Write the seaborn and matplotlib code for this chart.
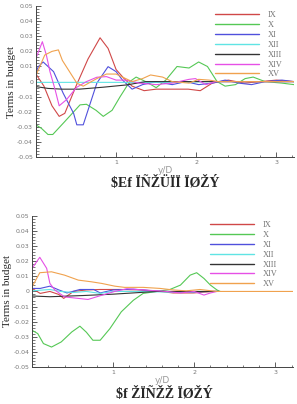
import matplotlib
matplotlib.use("Agg")
import matplotlib.pyplot as plt
from matplotlib.ticker import MultipleLocator
import seaborn as sns
import pandas as pd

terms = ["IX", "X", "XI", "XII", "XIII", "XIV", "XV"]
colors = ["#d04848", "#55c855", "#5050dc", "#60e4e4", "#333333", "#e650e6", "#f0a24e"]

# ---- top panel ----
top = {
    "IX": ([0, 0.1, 0.2, 0.29, 0.36, 0.5, 0.65, 0.8, 0.9, 1.0, 1.1, 1.2, 1.35, 1.5, 1.7, 1.9, 2.05, 2.2, 2.4, 2.6, 2.8, 3.0, 3.22],
           [0.005, -0.003, -0.016, -0.023, -0.021, -0.003, 0.015, 0.029, 0.022, 0.008, 0.002, -0.003, -0.006, -0.005, -0.005, -0.005, -0.006, -0.001, 0.001, -0.001, 0.0, 0.001, 0.0]),
    "X": ([0, 0.07, 0.15, 0.21, 0.35, 0.55, 0.63, 0.75, 0.84, 0.95, 1.05, 1.17, 1.25, 1.37, 1.5, 1.62, 1.76, 1.91, 2.03, 2.14, 2.26, 2.36, 2.49, 2.61, 2.71, 2.86, 3.07, 3.22],
          [-0.0286, -0.031, -0.035, -0.035, -0.027, -0.0154, -0.015, -0.019, -0.023, -0.019, -0.01, 0.0, 0.003, 0.0, -0.004, 0.001, 0.01, 0.009, 0.013, 0.01, 0.0, -0.003, -0.002, 0.002, 0.003, 0.0, -0.001, -0.002]),
    "XI": ([0, 0.03, 0.09, 0.22, 0.34, 0.47, 0.51, 0.59, 0.76, 0.9, 1.0, 1.08, 1.2, 1.33, 1.5, 1.7, 1.87, 2.03, 2.2, 2.36, 2.53, 2.69, 2.86, 3.07, 3.22],
           [0.006, 0.0099, 0.013, 0.0066, -0.0077, -0.021, -0.0286, -0.0286, -0.001, 0.0099, 0.0066, 0.001, -0.005, -0.002, 0.0, -0.002, 0.0, -0.002, -0.001, 0.001, -0.001, -0.002, 0.0, 0.001, 0.0]),
    "XII": ([0, 0.5, 1.0, 1.6, 2.2, 3.22],
            [-0.0005, -0.0005, -0.0005, -0.0005, 0.0, 0.0]),
    "XIII": ([0, 0.15, 0.33, 0.54, 0.84, 1.13, 1.37, 2.0, 3.22],
             [-0.0033, -0.0045, -0.005, -0.005, -0.0037, -0.0022, 0.0, 0.0, 0.0]),
    "XIV": ([0, 0.08, 0.13, 0.175, 0.24, 0.29, 0.38, 0.51, 0.63, 0.76, 0.88, 1.0, 1.12, 1.29, 1.5, 1.7, 1.91, 1.99, 2.12, 2.24, 2.6, 3.22],
            [0.0154, 0.0264, 0.0176, 0.0066, -0.0055, -0.016, -0.012, -0.0037, 0.0, 0.0029, 0.0033, 0.001, 0.001, -0.001, -0.002, -0.001, 0.0015, 0.002, -0.002, 0.0, 0.0, 0.0]),
    "XV": ([0, 0.11, 0.2, 0.28, 0.33, 0.51, 0.59, 0.76, 0.88, 1.0, 1.12, 1.2, 1.33, 1.43, 1.58, 1.7, 1.91, 2.03, 2.16, 2.28, 2.6, 3.22],
           [0.004, 0.0176, 0.02, 0.021, 0.014, -0.001, -0.003, 0.002, 0.005, 0.005, 0.002, 0.0, 0.002, 0.0044, 0.003, 0.0, -0.001, 0.0015, 0.001, 0.0, 0.0, 0.0]),
}

# ---- bottom panel ----
bottom = {
    "IX": ([0, 0.1, 0.22, 0.33, 0.39, 0.51, 0.67, 0.84, 1.09, 1.33, 1.58, 1.74, 1.99, 2.24, 2.3],
           [0.002, -0.0013, 0.0, -0.002, -0.0046, 0.0, 0.001, 0.0013, 0.0013, 0.001, 0.0, -0.001, -0.001, 0.0, 0.0]),
    "X": ([0, 0.07, 0.14, 0.24, 0.36, 0.49, 0.59, 0.67, 0.75, 0.84, 0.96, 1.1, 1.25, 1.37, 1.54, 1.7, 1.83, 1.95, 2.03, 2.12, 2.2, 2.28, 2.32],
          [-0.0257, -0.0279, -0.0345, -0.0368, -0.0334, -0.0268, -0.023, -0.027, -0.0323, -0.0323, -0.0246, -0.0135, -0.0058, -0.0013, 0.0, 0.0013, 0.0042, 0.0108, 0.0124, 0.0086, 0.0042, 0.001, 0.0]),
    "XI": ([0, 0.1, 0.22, 0.33, 0.43, 0.59, 0.76, 0.84, 1.0, 1.25, 1.5, 1.74, 1.99, 2.16, 2.3],
           [0.002, 0.002, 0.0035, 0.001, -0.001, 0.0013, 0.0013, -0.001, 0.001, 0.0015, 0.0004, -0.0004, -0.0004, 0.0, 0.0]),
    "XII": ([0, 0.22, 0.35, 0.51, 0.67, 0.84, 1.0, 1.33, 1.66, 2.3],
            [0.0004, 0.0013, 0.0, -0.0007, 0.0, -0.0013, 0.0, 0.0, -0.0004, 0.0]),
    "XIII": ([0, 0.22, 0.63, 1.0, 1.33, 1.54, 2.3],
             [-0.003, -0.0035, -0.0027, -0.0018, -0.0007, 0.0, 0.0]),
    "XIV": ([0, 0.095, 0.18, 0.22, 0.28, 0.4, 0.69, 0.86, 1.02, 1.17, 1.37, 1.66, 1.83, 2.0, 2.12, 2.2, 2.28],
            [0.0153, 0.0226, 0.0153, 0.0053, 0.001, -0.0036, -0.0053, -0.0025, 0.0, 0.0018, 0.001, 0.0, -0.001, 0.0, -0.0024, -0.001, 0.0]),
    "XV": ([0, 0.095, 0.24, 0.4, 0.57, 0.73, 0.86, 1.02, 1.14, 1.37, 1.58, 1.74, 1.9, 2.07, 2.28, 3.22],
           [0.003, 0.0124, 0.013, 0.0108, 0.0075, 0.0064, 0.0053, 0.0035, 0.0027, 0.0027, 0.002, 0.001, 0.0004, 0.0013, 0.0, 0.0]),
}

captions = ["$Ef ÏÑŽÜÏÏ ÏØŽÝ", "$f ŽÏÑŽŽ ÏØŽÝ"]

sns.set_style("ticks")
plt.rcParams["font.family"] = ["DejaVu Sans"]

fig = plt.figure(figsize=(2.97, 4.04), dpi=100)
panels = [
    (top, [0.121, 0.611, 0.869, 0.374], 0.694, 0.548),
    (bottom, [0.108, 0.0916, 0.879, 0.374], 0.682, 0.024),
]
palette = dict(zip(terms, colors))

for (data, rect, legx, capy), cap in zip(panels, captions):
    ax = fig.add_axes(rect)
    rows = []
    for t in terms:
        xs, ys = data[t]
        for xv, yv in zip(xs, ys):
            rows.append({"y/D": xv, "val": yv, "term": t})
    df = pd.DataFrame(rows)
    sns.lineplot(data=df, x="y/D", y="val", hue="term", hue_order=terms,
                 palette=palette, linewidth=0.8, ax=ax, estimator=None)
    ax.set_xlim(0, 3.22)
    ax.set_ylim(-0.05, 0.05)
    ax.xaxis.set_major_locator(MultipleLocator(1))
    ax.xaxis.set_minor_locator(MultipleLocator(0.2))
    ax.yaxis.set_major_locator(MultipleLocator(0.01))
    ax.yaxis.set_minor_locator(MultipleLocator(0.002))
    ax.set_xticks([1, 2, 3])
    ax.set_yticks([0.05, 0.04, 0.03, 0.02, 0.01, 0, -0.01, -0.02, -0.03, -0.04, -0.05])
    ax.set_yticklabels(["0.05", "0.04", "0.03", "0.02", "0.01", "0", "-0.01",
                        "-0.02", "-0.03", "-0.04", "-0.05"])
    ax.tick_params(which="major", direction="in", length=3.5, width=0.6,
                   labelsize=4.5, labelcolor="#777777", color="#444444", pad=2)
    ax.tick_params(which="minor", direction="in", length=1.8, width=0.5, color="#444444")
    for s in ["top", "right"]:
        ax.spines[s].set_visible(False)
    for s in ["left", "bottom"]:
        ax.spines[s].set_linewidth(0.7)
        ax.spines[s].set_color("#444444")
    ax.set_xlabel("y/D", fontsize=6.5, color="#999999", labelpad=1)
    ax.set_ylabel("Terms in budget", fontsize=8, family="Liberation Serif",
                  labelpad=1)
    leg = ax.legend(loc="upper left", bbox_to_anchor=(legx, 0.965), frameon=False,
                    fontsize=6, handlelength=5.3, handletextpad=1.0,
                    labelspacing=0.22, borderpad=0, borderaxespad=0)
    for txt in leg.get_texts():
        txt.set_family("Liberation Serif")
        txt.set_color("#777777")
    for ln in leg.get_lines():
        ln.set_linewidth(1.0)
    fig.text(0.555, capy, cap, ha="center", va="center", fontsize=10,
             family="Liberation Serif", fontweight="bold")

fig.savefig("out.png", dpi=100)
